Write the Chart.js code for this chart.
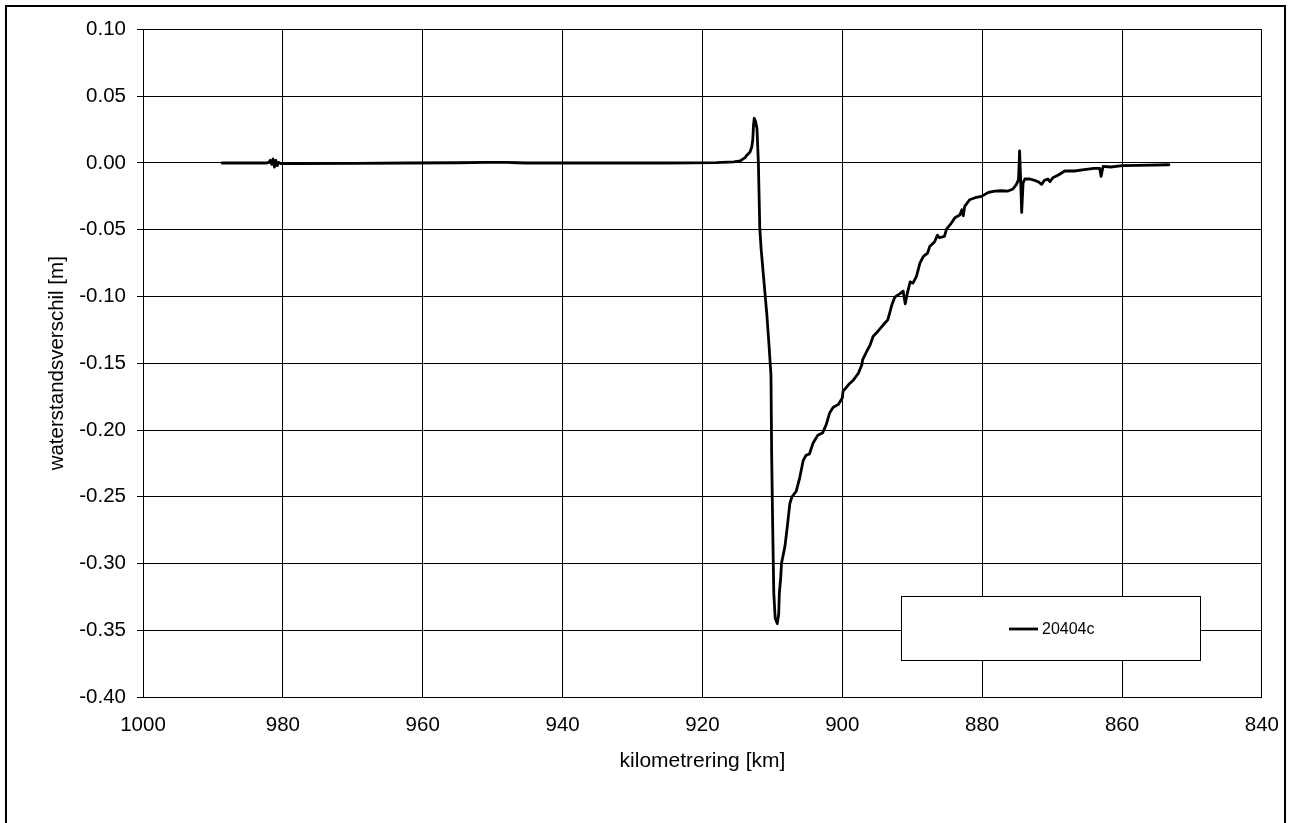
<!DOCTYPE html>
<html>
<head>
<meta charset="utf-8">
<script src="https://cdn.jsdelivr.net/npm/chart.js@4/dist/chart.umd.min.js"></script>
<style>
  html, body { margin: 0; padding: 0; background: #fff; }
  #wrap { width: 1295px; height: 823px; }
</style>
</head>
<body>
<div id="wrap"><canvas id="chart" width="1295" height="823"></canvas></div>
<script>
'use strict';

// kilometrering [km] (descending, left to right)
const km = [
  988.7, 985.0, 982.3, 982.0, 981.8, 981.6, 981.4, 981.2, 981.0, 980.8, 980.6, 980.3,
  978.0, 970.0, 962.0, 955.0, 951.0, 948.0, 946.5, 945.0, 935.0, 925.0, 918.0, 915.5,
  914.6, 913.9, 913.7, 913.4, 913.2, 912.95, 912.8, 912.7, 912.6, 912.5, 912.4, 912.2,
  912.0, 911.8, 911.6, 911.1, 910.8, 910.5, 910.2, 910.1, 909.95, 909.8, 909.6, 909.3,
  909.1, 909.0, 908.8, 908.7, 908.2, 907.9, 907.5, 907.2, 906.6, 906.1, 905.6, 905.2,
  904.7, 904.2, 903.5, 902.8, 902.3, 901.8, 901.3, 900.6, 900.0, 899.9, 899.1, 898.4,
  897.7, 897.2, 897.1, 896.5, 896.0, 895.6, 894.9, 894.1, 893.5, 892.9, 892.5, 891.8,
  891.3, 891.0, 890.7, 890.3, 889.9, 889.4, 888.9, 888.4, 887.8, 887.5, 886.8, 886.4,
  886.1, 885.4, 885.1, 884.4, 883.9, 883.2, 882.9, 882.7, 882.5, 881.8, 881.0, 880.1,
  879.1, 878.2, 877.2, 876.3, 875.6, 875.1, 874.8, 874.65, 874.5, 874.35, 874.15, 873.9,
  873.2, 872.5, 872.0, 871.5, 871.1, 870.6, 870.3, 869.9, 869.1, 868.2, 866.8, 865.4,
  864.0, 863.2, 863.0, 862.7, 861.6, 860.0, 857.8, 853.3
];

// waterstandsverschil [m] for run 20404c
const diff20404c = [
  0.000, 0.000, 0.000, 0.0005, 0.002, -0.001, 0.003, -0.003, 0.002, -0.002, 0.0005, -0.0005,
  -0.0005, -0.0003, 0.000, 0.0002, 0.0005, 0.0004, 0.0002, 0.000, 0.000, 0.000, 0.0003, 0.0008,
  0.0016, 0.004, 0.0056, 0.007, 0.0083, 0.012, 0.0176, 0.028, 0.0335, 0.0335, 0.031, 0.0257,
  0.000, -0.049, -0.065, -0.095, -0.113, -0.135, -0.159, -0.220, -0.274, -0.322, -0.341, -0.345,
  -0.338, -0.322, -0.310, -0.300, -0.287, -0.274, -0.255, -0.250, -0.246, -0.236, -0.223, -0.219,
  -0.218, -0.210, -0.204, -0.202, -0.196, -0.187, -0.183, -0.181, -0.176, -0.171, -0.166, -0.1625,
  -0.1575, -0.151, -0.1475, -0.141, -0.136, -0.130, -0.126, -0.121, -0.1175, -0.106, -0.1005, -0.098,
  -0.096, -0.1055, -0.0975, -0.089, -0.090, -0.085, -0.075, -0.070, -0.0675, -0.0625, -0.059, -0.054,
  -0.056, -0.055, -0.0495, -0.045, -0.041, -0.039, -0.035, -0.0395, -0.0325, -0.0275, -0.026, -0.025,
  -0.022, -0.021, -0.0208, -0.021, -0.0195, -0.016, -0.0125, 0.009, -0.0125, -0.037, -0.015, -0.012,
  -0.012, -0.013, -0.014, -0.016, -0.013, -0.012, -0.014, -0.011, -0.009, -0.006, -0.006, -0.005,
  -0.004, -0.004, -0.010, -0.0025, -0.003, -0.002, -0.0018, -0.0013
];

const seriesLabel = '20404c';
const xTicks = [1000, 980, 960, 940, 920, 900, 880, 860, 840];
const yTicks = [0.10, 0.05, 0.00, -0.05, -0.10, -0.15, -0.20, -0.25, -0.30, -0.35, -0.40];

const FONT = "'Liberation Sans', Arial, sans-serif";

// outer frame of the chart object
const framePlugin = {
  id: 'frame',
  afterDraw(chart) {
    const ctx = chart.ctx;
    ctx.save();
    ctx.strokeStyle = '#000';
    ctx.lineWidth = 2;
    ctx.strokeRect(6, 6, 1279, 840);
    ctx.restore();
  }
};

// boxed legend inside the plot area (lower right)
const boxLegend = {
  id: 'boxLegend',
  afterDatasetsDraw(chart) {
    const ctx = chart.ctx;
    const ds = chart.data.datasets[0];
    const x = 901.5, y = 596.5, w = 299, h = 64;
    ctx.save();
    ctx.fillStyle = '#fff';
    ctx.fillRect(x, y, w, h);
    ctx.strokeStyle = '#000';
    ctx.lineWidth = 1;
    ctx.strokeRect(x, y, w, h);
    ctx.strokeStyle = ds.borderColor;
    ctx.lineWidth = ds.borderWidth;
    ctx.beginPath();
    ctx.moveTo(1009, 629);
    ctx.lineTo(1038, 629);
    ctx.stroke();
    ctx.fillStyle = '#000';
    ctx.font = '16px ' + FONT;
    ctx.textBaseline = 'middle';
    ctx.fillText(ds.label, 1042, 630);
    ctx.restore();
  }
};

new Chart(document.getElementById('chart'), {
  type: 'line',
  data: {
    datasets: [{
      label: seriesLabel,
      data: km.map((k, i) => ({ x: k, y: diff20404c[i] })),
      borderColor: '#000',
      borderWidth: 2.8,
      borderJoinStyle: 'round',
      borderCapStyle: 'round',
      pointRadius: 0,
      tension: 0,
      fill: false
    }]
  },
  options: {
    responsive: false,
    animation: false,
    events: [],
    layout: { padding: { top: 29.5, right: 31, bottom: 49, left: 0 } },
    plugins: { legend: { display: false }, tooltip: { enabled: false } },
    scales: {
      x: {
        type: 'linear',
        reverse: true,
        min: 840,
        max: 1000,
        afterBuildTicks: s => { s.ticks = xTicks.map(v => ({ value: v })); },
        afterFit: s => { s.height = 77; },
        border: { color: '#000', width: 1 },
        grid: { color: '#000', lineWidth: 1, drawTicks: false },
        ticks: { color: '#000', font: { family: FONT, size: 20.5 }, padding: 16, maxRotation: 0, callback: v => String(v) },
        title: { display: true, text: 'kilometrering [km]', color: '#000', font: { family: FONT, size: 21 }, padding: 0 }
      },
      y: {
        min: -0.40,
        max: 0.10,
        afterBuildTicks: s => { s.ticks = yTicks.map(v => ({ value: v })); },
        afterFit: s => { s.width = 143; },
        border: { color: '#000', width: 1 },
        grid: { color: '#000', lineWidth: 1, tickLength: 6 },
        ticks: { color: '#000', font: { family: FONT, size: 20.5 }, padding: 11, callback: v => v.toFixed(2) },
        title: { display: true, text: 'waterstandsverschil [m]', color: '#000', font: { family: FONT, size: 20.5 }, padding: { top: 45 } }
      }
    }
  },
  plugins: [framePlugin, boxLegend]
});
</script>
</body>
</html>
